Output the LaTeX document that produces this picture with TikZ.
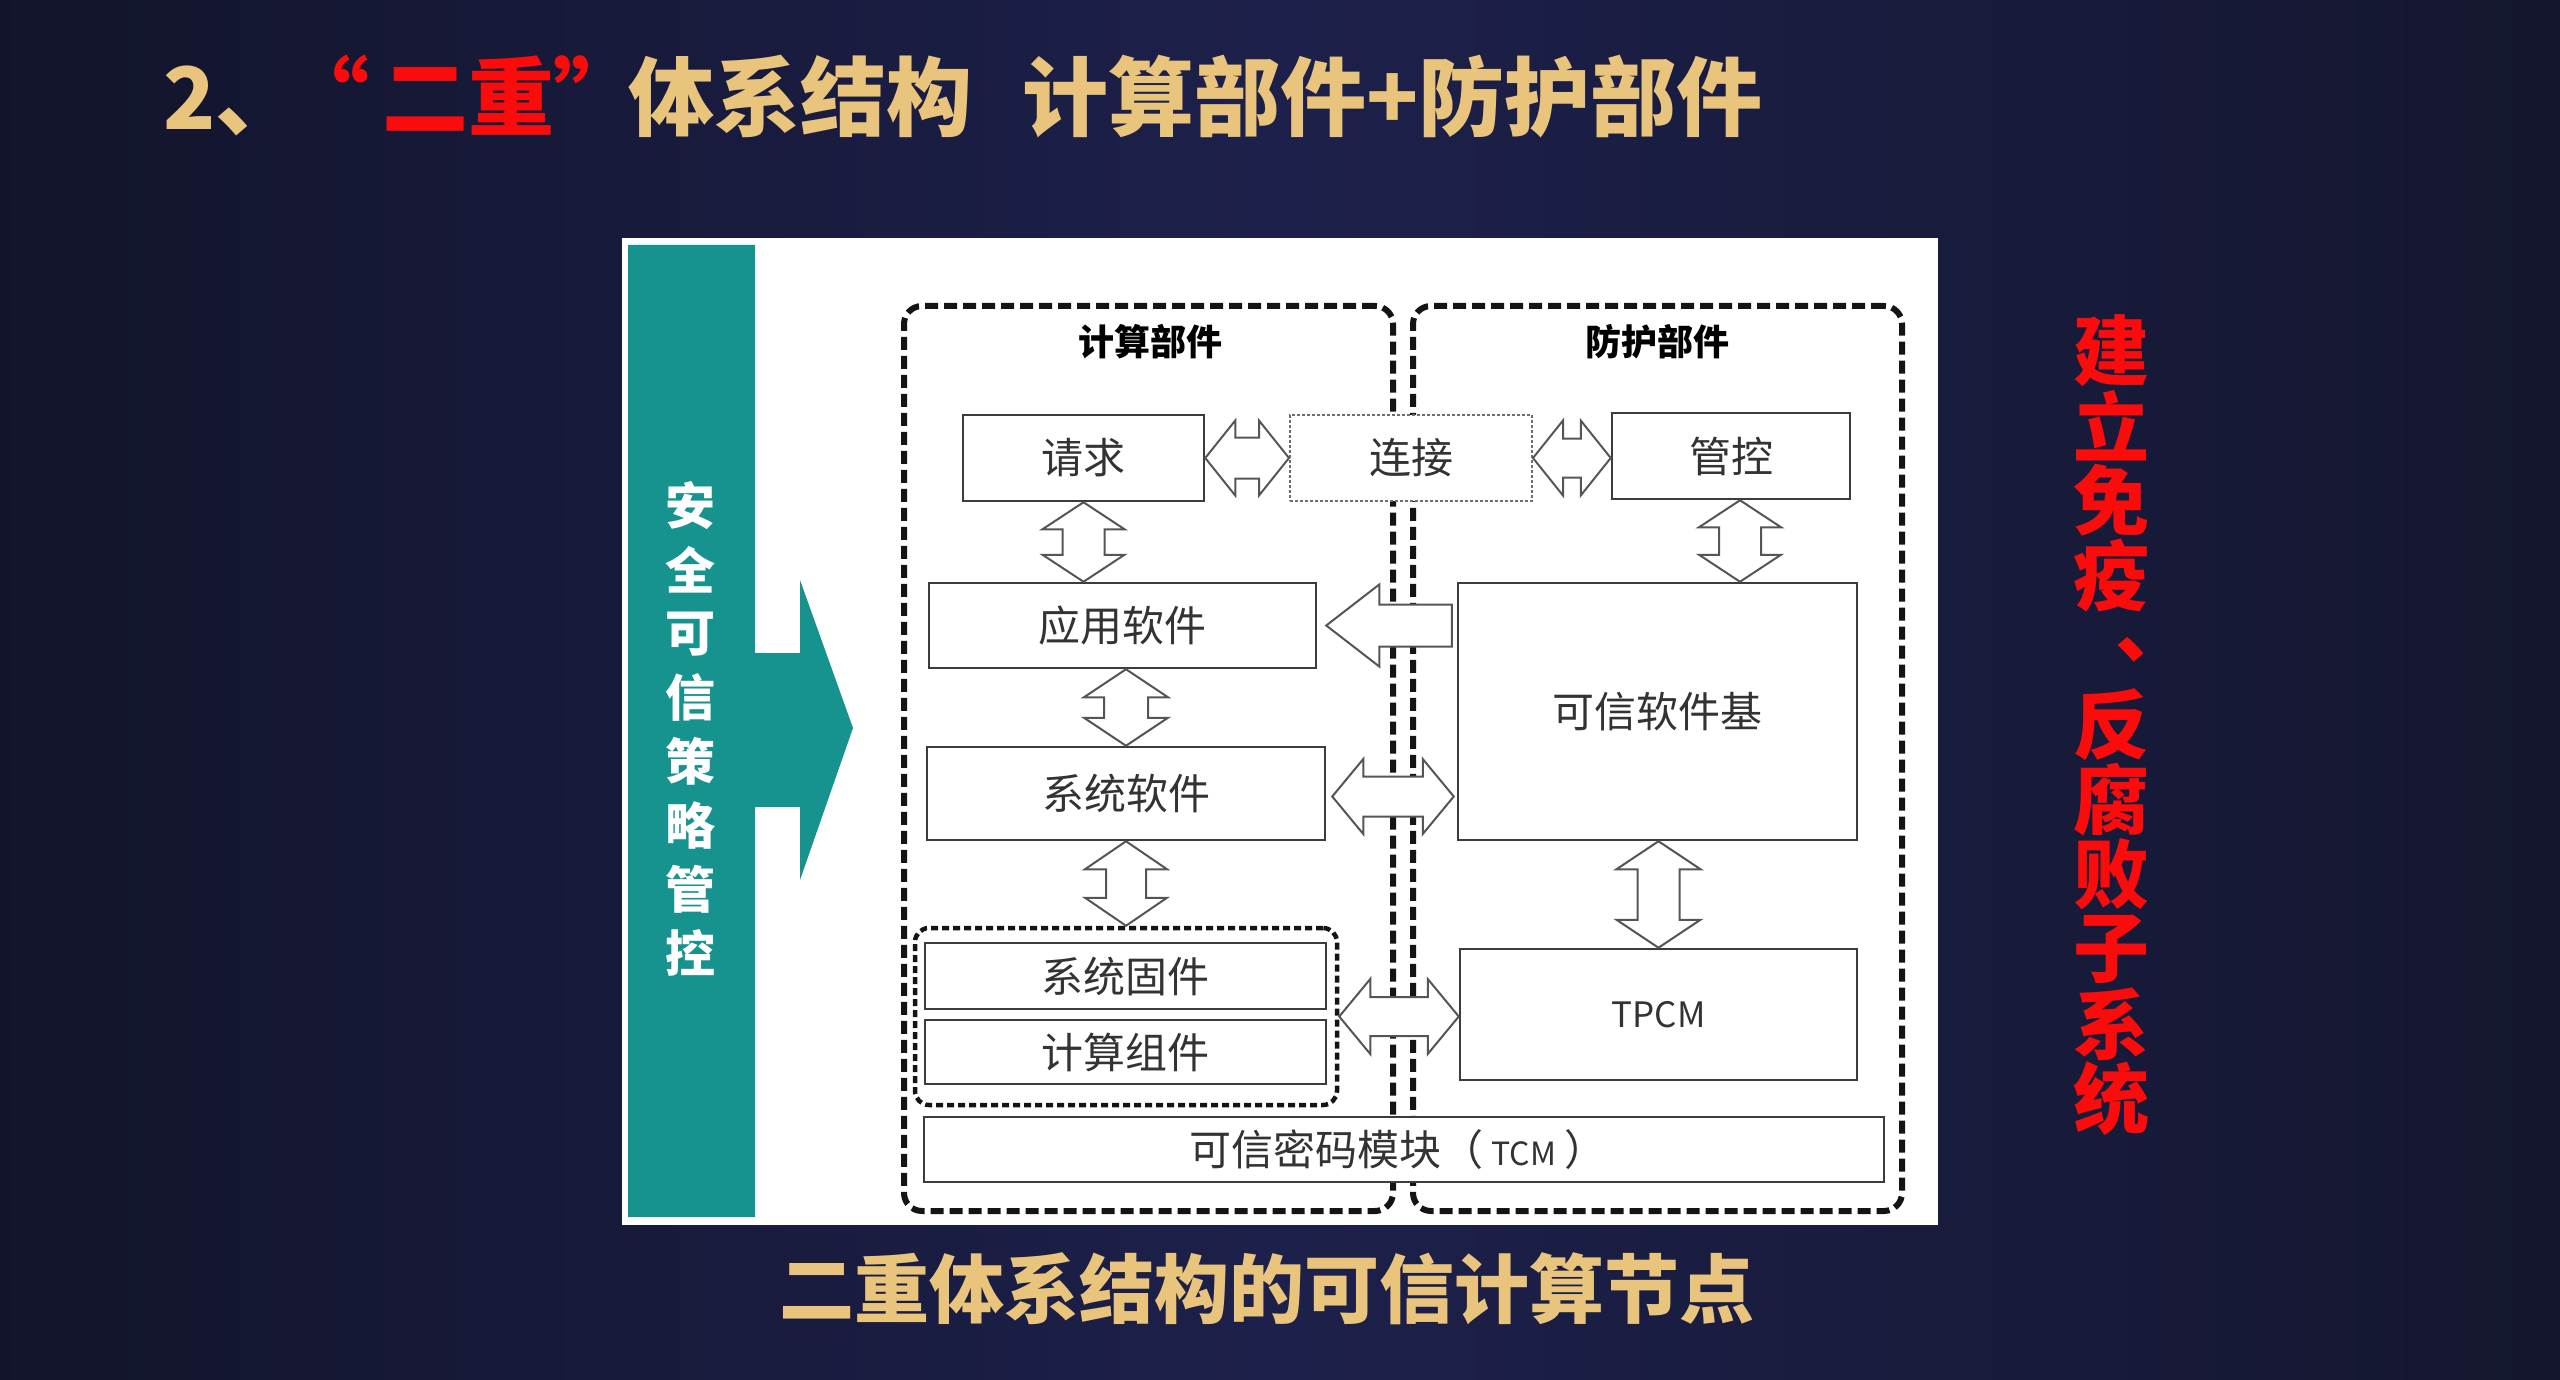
\documentclass[tikz,border=0pt]{standalone}
\usepackage{fontspec}
\setmainfont{Noto Sans CJK SC}
\usetikzlibrary{calc}
\definecolor{bg0}{RGB}{6,7,11}
\definecolor{bg1}{RGB}{17,19,40}
\definecolor{bg2}{RGB}{29,32,74}
\definecolor{bg3}{RGB}{19,21,44}
\definecolor{bg4}{RGB}{7,8,12}
\definecolor{gold}{RGB}{233,196,124}
\definecolor{titlered}{RGB}{250,12,12}
\definecolor{tealc}{RGB}{22,146,143}
\definecolor{boxline}{RGB}{60,60,60}
\definecolor{arrline}{RGB}{85,85,85}
\definecolor{boxtext}{RGB}{51,51,51}
\definecolor{dotgray}{RGB}{110,110,110}
\pgfdeclarehorizontalshading{bgsh}{100bp}{color(0bp)=(bg0); color(22bp)=(bg1); color(50bp)=(bg2); color(78bp)=(bg3); color(100bp)=(bg4)}
% horizontal double block arrow: left tip, right tip, head length, head half height, shaft half height
\newcommand{\harrowdbl}[5]{%
  \path[blockarrow] let \p1=(#1), \p2=(#2) in
    (\x1,\y1) -- (\x1+#3pt,\y1+#4pt) -- (\x1+#3pt,\y1+#5pt) -- (\x2-#3pt,\y1+#5pt)
    -- (\x2-#3pt,\y1+#4pt) -- (\x2,\y1) -- (\x2-#3pt,\y1-#4pt) -- (\x2-#3pt,\y1-#5pt)
    -- (\x1+#3pt,\y1-#5pt) -- (\x1+#3pt,\y1-#4pt) -- cycle;}
% vertical double block arrow: top tip, bottom tip, head length, head half width, shaft half width
\newcommand{\varrowdbl}[5]{%
  \path[blockarrow] let \p1=(#1), \p2=(#2) in
    (\x1,\y1) -- (\x1+#4pt,\y1-#3pt) -- (\x1+#5pt,\y1-#3pt) -- (\x1+#5pt,\y2+#3pt)
    -- (\x1+#4pt,\y2+#3pt) -- (\x1,\y2) -- (\x1-#4pt,\y2+#3pt) -- (\x1-#5pt,\y2+#3pt)
    -- (\x1-#5pt,\y1-#3pt) -- (\x1-#4pt,\y1-#3pt) -- cycle;}
% single left block arrow: tip, tail, head length, head half height, shaft half height
\newcommand{\larrowblk}[5]{%
  \path[blockarrow] let \p1=(#1), \p2=(#2) in
    (\x1,\y1) -- (\x1+#3pt,\y1+#4pt) -- (\x1+#3pt,\y1+#5pt) -- (\x2,\y1+#5pt)
    -- (\x2,\y1-#5pt) -- (\x1+#3pt,\y1-#5pt) -- (\x1+#3pt,\y1-#4pt) -- cycle;}
\begin{document}
\begin{tikzpicture}[x=1pt,y=-1pt,
  box/.style={draw=boxline,line width=2.5pt,fill=white,inner sep=0pt,text=boxtext,font=\fontsize{42}{50}\selectfont},
  blockarrow/.style={draw=arrline,line width=2pt,fill=white,line join=miter},
  outerbox/.style={draw=black!92,line width=6pt,dash pattern=on 13pt off 6pt,rounded corners=18pt,inner sep=0pt},
  smallbox/.style={draw=black!92,line width=4.5pt,dash pattern=on 7pt off 4pt,rounded corners=14pt,inner sep=0pt},
  titlef/.style={font=\bfseries\fontsize{86}{90}\selectfont,inner sep=0pt},
  partlabel/.style={font=\bfseries\fontsize{36}{40}\selectfont,text=black,inner sep=0pt},
  tealtext/.style={font=\bfseries\fontsize{50}{56}\selectfont,text=white,inner sep=0pt},
  redv/.style={font=\bfseries\fontsize{76}{80}\selectfont,text=titlered,inner sep=0pt}]
\useasboundingbox (0,0) rectangle (2560,1380);
\shade[shading=bgsh] (0,0) rectangle (2560,1380);

% title
\node[titlef,text=gold,anchor=base west] (t1) at (163,130) {2、};
\node[titlef,text=titlered,anchor=base] (t2a) at (326,130) {“};
\node[titlef,text=titlered,anchor=base] (t2) at (468,130) {二重};
\node[titlef,text=titlered,anchor=base] (t2b) at (596,130) {”};
\node[titlef,text=gold,anchor=base] (t3) at (800.5,130) {体系结构};
\node[titlef,text=gold,anchor=base] (t4) at (1392.5,130) {计算部件+防护部件};

% white panel
\node[fill=white,minimum width=1316pt,minimum height=987pt,inner sep=0pt] (panel) at (1280,731.5) {};

% teal bar with arrow
\fill[tealc] (628,245) -- (755,245) -- (755,653) -- (800,653) -- (800,580) -- (853,728)
  -- (800,880) -- (800,807) -- (755,807) -- (755,1217) -- (628,1217) -- cycle;
\foreach \c [count=\i from 0] in {安,全,可,信,策,略,管,控}
  \node[tealtext] (tl\i) at (690,{506+63.9*\i}) {\c};

% outer dashed boxes
\node[outerbox,minimum width=489pt,minimum height=905pt] (L) at (1148.5,758.5) {};
\node[outerbox,minimum width=489pt,minimum height=905pt] (R) at (1657.5,758.5) {};
\node[partlabel] (Ll) at (1150,342) {计算部件};
\node[partlabel] (Rl) at (1657,342) {防护部件};
\node[smallbox,minimum width=422pt,minimum height=177pt] (S) at (1126,1016.5) {};

% boxes
\node[box,minimum width=241pt,minimum height=86pt] (qq) at (1083.5,458) {请求};
\node[box,draw=dotgray,line width=2pt,dash pattern=on 3pt off 2pt,minimum width=242pt,minimum height=86pt] (lj) at (1411,458) {连接};
\node[box,minimum width=238pt,minimum height=86pt] (gk) at (1731,456) {管控};
\node[box,minimum width=387pt,minimum height=85pt] (yy) at (1122.5,625.5) {应用软件};
\node[box,minimum width=399pt,minimum height=257pt] (kx) at (1657.5,711.5) {可信软件基};
\node[box,minimum width=398pt,minimum height=93pt] (xr) at (1126,793.5) {系统软件};
\node[box,minimum width=401pt,minimum height=66pt] (gj) at (1125.5,976) {系统固件};
\node[box,minimum width=401pt,minimum height=64pt] (zj) at (1125.5,1052) {计算组件};
\node[box,minimum width=397pt,minimum height=131pt,font=\fontsize{35}{40}\selectfont] (tp) at (1658.5,1014.5) {TPCM};
\node[box,minimum width=960pt,minimum height=65pt] (tcm) at (1404,1149.5) {};
\node[inner sep=0pt,text=boxtext,font=\fontsize{42}{50}\selectfont] (tcmt) at (1398,1150) {可信密码模块（\hspace{8pt}{\fontsize{32}{36}\selectfont TCM}\hspace{8pt}）};

% block arrows
\coordinate (a1l) at (qq.east); \coordinate (a1r) at (lj.west);
\harrowdbl{a1l}{a1r}{30}{37.5}{20.5}
\coordinate (a2l) at (lj.east); \coordinate (a2r) at (gk.west |- lj.east);
\harrowdbl{a2l}{a2r}{30}{37.5}{19.5}
\coordinate (a3t) at (qq.south); \coordinate (a3b) at (qq.south |- yy.north);
\varrowdbl{a3t}{a3b}{27}{41}{21}
\coordinate (a4t) at ($(gk.south)+(9,0)$); \coordinate (a4b) at (a4t |- kx.north);
\varrowdbl{a4t}{a4b}{27}{41}{21}
\coordinate (a5h) at ($(yy.east)+(9,0)$); \coordinate (a5e) at ($(kx.west |- a5h)+(-5,0)$);
\larrowblk{a5h}{a5e}{53}{41}{21}
\coordinate (a6t) at (xr.north |- yy.south); \coordinate (a6b) at (xr.north);
\varrowdbl{a6t}{a6b}{28}{42}{22}
\coordinate (a7l) at ($(xr.east)+(6,3)$); \coordinate (a7r) at ($(kx.west |- a7l)+(-3,0)$);
\harrowdbl{a7l}{a7r}{31}{37.5}{20}
\coordinate (a8t) at (xr.south); \coordinate (a8b) at (xr.south |- S.north);
\varrowdbl{a8t}{a8b}{28}{41}{20}
\coordinate (a9t) at (tp.north |- kx.south); \coordinate (a9b) at (tp.north);
\varrowdbl{a9t}{a9b}{28}{42}{21}
\coordinate (a10l) at (S.east); \coordinate (a10r) at (tp.west |- S.east);
\harrowdbl{a10l}{a10r}{31}{37.5}{19.5}

% right red vertical text
\foreach \c/\i in {建/0,立/1,免/2,疫/3,反/5,腐/6,败/7,子/8,系/9,统/10}
  \node[redv] (rv\i) at (2111,{351+74.8*\i}) {\c};
\node[redv] (rv4) at (2153,{351+74.8*4}) {、};

% caption
\node[font=\bfseries\fontsize{75}{80}\selectfont,text=gold,inner sep=0pt] (cap) at (1267,1289) {二重体系结构的可信计算节点};
\end{tikzpicture}
\end{document}
